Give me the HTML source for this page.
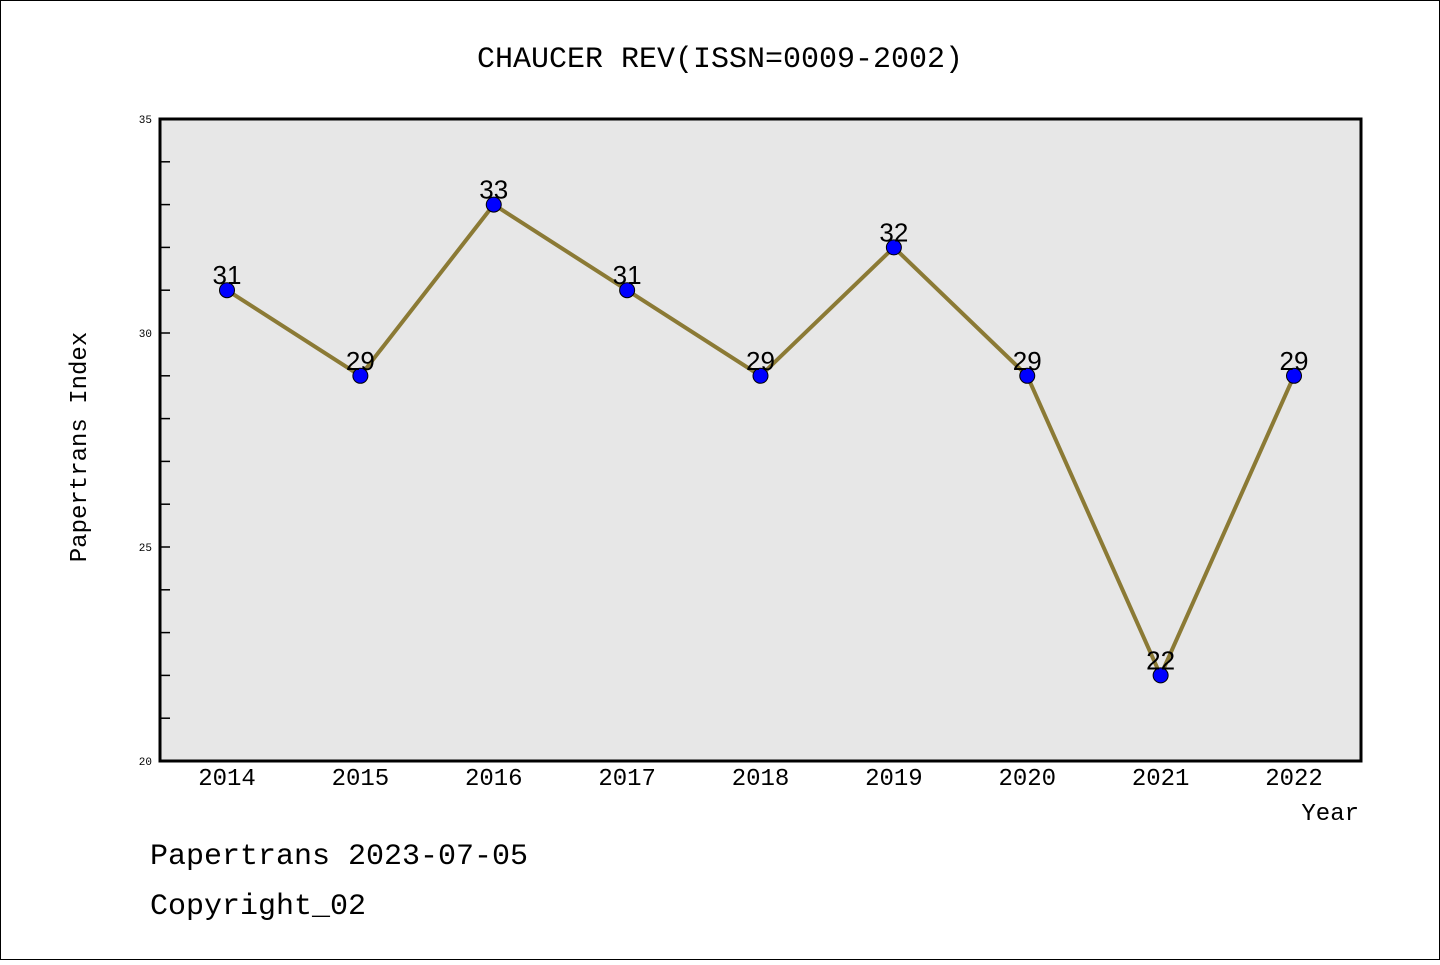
<!DOCTYPE html>
<html><head><meta charset="utf-8"><style>
body{margin:0;background:#fff}
svg text{font-family:"WenQuanYi Zen Hei","Liberation Mono",monospace}
</style></head><body>
<svg width="1440" height="960" xmlns="http://www.w3.org/2000/svg">
<rect x="0.5" y="0.5" width="1439" height="959" fill="#fff" stroke="#000"/>
<text x="720" y="67" font-size="30" text-anchor="middle">CHAUCER REV(ISSN=0009-2002)</text>
<rect x="160" y="119" width="1201" height="642" fill="#e7e7e7" stroke="#000" stroke-width="3"/>
<g id="axes"></g>
<g id="series"></g>
<text x="86" y="447" font-size="24" text-anchor="middle" transform="rotate(-90 86 447)">Papertrans Index</text>
<text x="1359" y="820" font-size="24" text-anchor="end">Year</text>
<text x="150" y="864" font-size="30">Papertrans 2023-07-05</text>
<text x="150" y="914" font-size="30">Copyright_02</text>
</svg>
<script>
const years=["2014","2015","2016","2017","2018","2019","2020","2021","2022"];
const values=[31,29,33,31,29,32,29,22,29];
const yTicks=[20,25,30,35];
const NS="http://www.w3.org/2000/svg";
const x=i=>227+i*(1294-227)/(years.length-1);
const y=v=>761-(v-20)*(761-119)/15;
function mk(t,a,p){const e=document.createElementNS(NS,t);for(const k in a)e.setAttribute(k,a[k]);p.appendChild(e);return e;}
const ax=document.getElementById('axes'),se=document.getElementById('series');
for(let v=21;v<35;v++){const l=mk('line',{x1:160,x2:170,y1:y(v),y2:y(v),stroke:'#000','stroke-width':1.5},ax);

}
yTicks.forEach(v=>{const t=mk('text',{x:152,y:y(v)+4,'font-size':11,'text-anchor':'end',fill:'#000'},ax);t.textContent=v;

});
years.forEach((yr,i)=>{const t=mk('text',{x:x(i),y:785,'font-size':24,'text-anchor':'middle'},ax);t.textContent=yr;

});
const pl=mk('polyline',{points:values.map((v,i)=>x(i)+','+y(v)).join(' '),fill:'none',stroke:'#8b7a35','stroke-width':4},se);


values.forEach((v,i)=>{const c=mk('circle',{cx:x(i),cy:y(v),r:7.5,fill:'#0000ff',stroke:'#000','stroke-width':1},se);


const t=mk('text',{x:x(i),y:y(v)-6,'font-size':26,'text-anchor':'middle',fill:'#000'},se);t.textContent=v;t.style.fontFamily='"Liberation Sans",sans-serif';

});
</script>
</body></html>
